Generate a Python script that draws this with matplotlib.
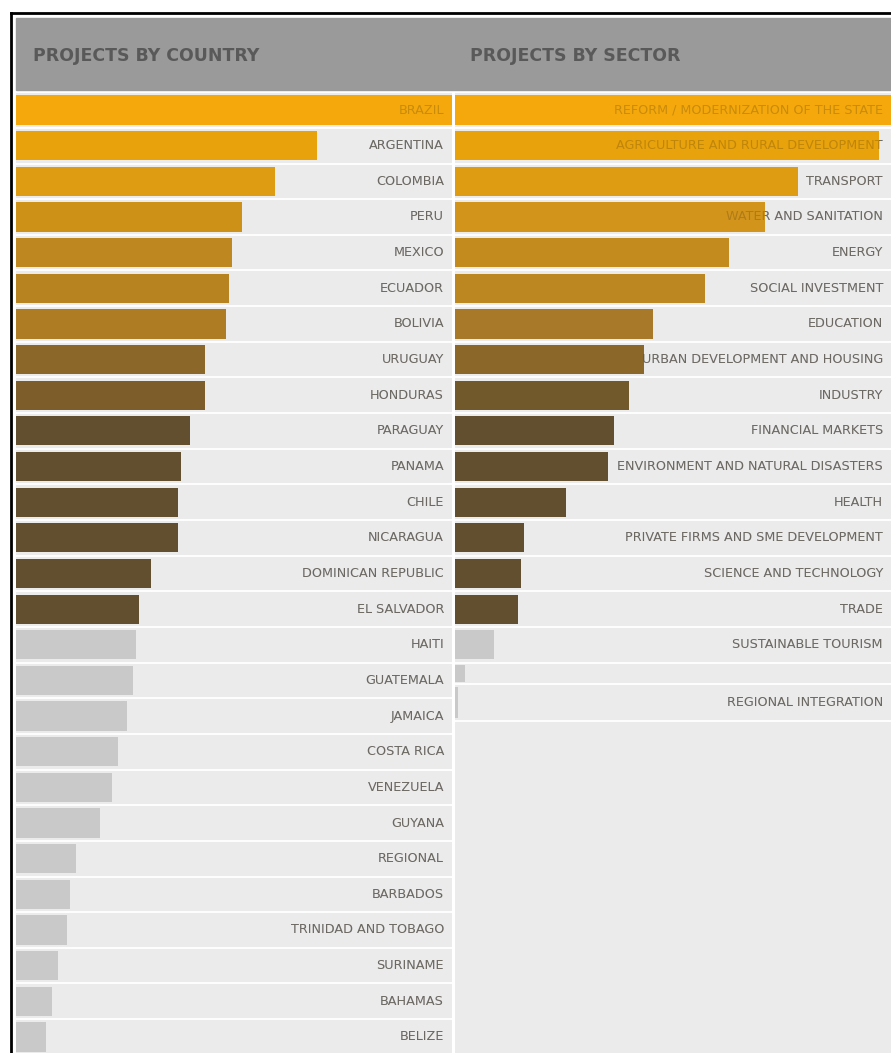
import matplotlib
matplotlib.use("Agg")
import matplotlib.pyplot as plt
from matplotlib.patches import Rectangle
from matplotlib.lines import Line2D
import numpy as np

# ── Data ─────────────────────────────────────────────────────────────

countries = ["BRAZIL", "ARGENTINA", "COLOMBIA", "PERU", "MEXICO", "ECUADOR",
             "BOLIVIA", "URUGUAY", "HONDURAS", "PARAGUAY", "PANAMA", "CHILE",
             "NICARAGUA", "DOMINICAN REPUBLIC", "EL SALVADOR", "HAITI",
             "GUATEMALA", "JAMAICA", "COSTA RICA", "VENEZUELA", "GUYANA",
             "REGIONAL", "BARBADOS", "TRINIDAD AND TOBAGO", "SURINAME",
             "BAHAMAS", "BELIZE"]
country_projects = [145, 100, 86, 75, 72, 71, 70, 63, 63, 58, 55, 54, 54,
                    45, 41, 40, 39, 37, 34, 32, 28, 20, 18, 17, 14, 12, 10]

sectors = ["REFORM / MODERNIZATION OF THE STATE",
           "AGRICULTURE AND RURAL DEVELOPMENT", "TRANSPORT",
           "WATER AND SANITATION", "ENERGY", "SOCIAL INVESTMENT", "EDUCATION",
           "URBAN DEVELOPMENT AND HOUSING", "INDUSTRY", "FINANCIAL MARKETS",
           "ENVIRONMENT AND NATURAL DISASTERS", "HEALTH",
           "PRIVATE FIRMS AND SME DEVELOPMENT", "SCIENCE AND TECHNOLOGY",
           "TRADE", "SUSTAINABLE TOURISM", "", "REGIONAL INTEGRATION"]
sector_projects = [145, 141, 114, 103, 91, 83, 66, 63, 58, 53, 51, 37,
                   23, 22, 21, 13, 3.3, 1]

# ── Styles ───────────────────────────────────────────────────────────

country_colors = ["#F5A500", "#E89E00", "#DE9806", "#CC8C0C", "#BC8214",
                  "#B57D15", "#AA7618", "#86601E", "#775620"] + ["#5B4726"] * 6 \
                 + ["#C8C8C8"] * 12
sector_colors = ["#F5A500", "#E89E00", "#DE9806", "#D29010", "#C18613",
                 "#BA8216", "#A4731D", "#86601E", "#6C5122"] + ["#5B4726"] * 6 \
                + ["#C8C8C8"] * 3
# relative row heights in the sector panel (the last two rows are squeezed)
sector_span = [1.0] * 16 + [0.6, 1.04]

W, H = 891, 1053
BG = "#EBEBEB"
LABEL = "#767676"
label_font = ["Liberation Sans Narrow", "DejaVu Sans"]

fig = plt.figure(figsize=(W / 100, H / 100), dpi=100)
fig.patch.set_facecolor("white")


def fx(px):
    return px / W


def fy(py):
    return 1 - py / H


# outer frame and header band
fig.add_artist(Line2D([fx(11), fx(11)], [fy(13), 0], color="black", lw=2))
fig.add_artist(Line2D([fx(11), 1], [fy(13), fy(13)], color="black", lw=2))
fig.add_artist(Rectangle((fx(16), fy(90)), 1 - fx(16), (90 - 18) / H,
                         color="#9A9A9A", transform=fig.transFigure))
for x, title in [(33, "PROJECTS BY COUNTRY"), (470, "PROJECTS BY SECTOR")]:
    fig.text(fx(x), fy(56), title, ha="left", va="center",
             fontsize=12.5, fontweight="bold", color="#595959",
             family="DejaVu Sans")

pitch = 35.65
top = 92.2
bottom_row = (H - top) / pitch - 0.5


def panel(x0, x1, labels, values, colors, spans):
    ax = fig.add_axes([fx(x0), 0, fx(x1) - fx(x0), fy(top)])
    ax.set_facecolor(BG)
    spans = np.array(spans)
    edges = np.concatenate([[0], np.cumsum(spans)]) - 0.5
    centers = (edges[:-1] + edges[1:]) / 2
    heights = spans * 0.82
    ax.barh(centers, values, height=heights, color=colors, alpha=0.95,
            zorder=3, linewidth=0)
    for e in edges:
        ax.axhline(e, color="white", lw=1.3, zorder=2)
    pad = 8 / (x1 - x0)
    for c, lab in zip(centers, labels):
        # label sits behind the bar; a faint copy shows through long bars
        ax.text(1 - pad, c, lab, transform=ax.get_yaxis_transform(),
                ha="right", va="center", fontsize=9.2, color=LABEL,
                family=label_font, zorder=1)
        ax.text(1 - pad, c, lab, transform=ax.get_yaxis_transform(),
                ha="right", va="center", fontsize=9.2, color="#4A3A20",
                alpha=0.22, family=label_font, zorder=4)
    ax.set_xlim(0, max(values))
    ax.set_ylim(bottom_row, -0.5)
    ax.set_xticks([])
    ax.set_yticks([])
    for s in ax.spines.values():
        s.set_visible(False)
    return ax


panel(16, 452, countries, country_projects, country_colors,
      [1.0] * len(countries))
panel(455, 891, sectors, sector_projects, sector_colors, sector_span)

plt.savefig("out.png", dpi=100)
